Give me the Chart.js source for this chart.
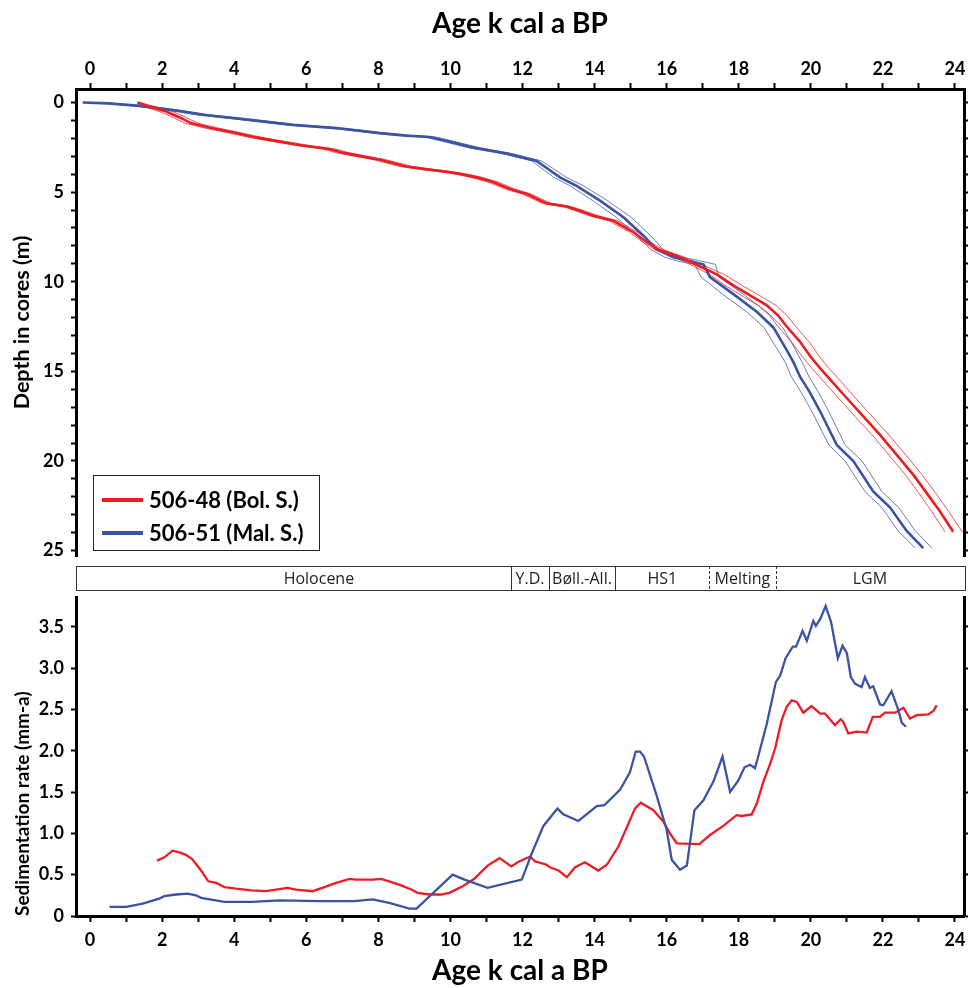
<!DOCTYPE html>
<html><head><meta charset="utf-8">
<script src="https://cdn.jsdelivr.net/npm/chart.js@4.4.0/dist/chart.umd.min.js"></script>
<style>
html,body{margin:0;padding:0;background:#fff;}
#wrap{position:relative;width:969px;height:988px;background:#fff;}
#c1{position:absolute;left:0;top:0;}
#c2{position:absolute;left:0;top:560px;}
</style></head>
<body><div id="wrap"><canvas id="c2" width="969" height="428"></canvas><canvas id="c1" width="969" height="563"></canvas></div>
<script>
// ---------- DATA ----------
// Age-depth model, core 506-48 (Bol. S.)
const redDepth = [0.0,0.2,0.51,0.85,1.15,1.4,1.71,1.95,2.15,2.4, 2.6,2.8,2.98,3.2,3.57,3.72,3.87,4.0,4.18,4.45, 4.83,5.11,5.63,5.80,6.05,6.32,6.60,7.24,7.80,8.25, 8.63,9.15,9.6,10.2,10.75,11.3,11.9,12.5,13.35,14.2, 14.83,15.6,16.5,17.5,18.54,19.7,20.76,21.75,22.8,23.95];
const redAge = [1.32,1.6,2.11,2.5,2.80,3.3,4.05,4.6,5.16,5.9, 6.64,7.0,7.47,8.05,8.77,9.3,9.90,10.3,10.73,11.2, 11.65,12.12,12.67,13.23,13.6,13.97,14.52,15.08,15.45,15.82, 16.37,16.93,17.4,17.85,18.3,18.77,19.1,19.33,19.70,20.0, 20.26,20.6,21.0,21.45,21.92,22.4,22.84,23.2,23.58,23.95];
const redAgeYoung = [1.3,1.45,1.93,2.32,2.62,3.12,3.87,4.42,4.98,5.72, 6.46,6.83,7.3,7.88,8.6,9.13,9.73,10.14,10.58,11.06, 11.52,12.0,12.55,13.11,13.48,13.85,14.4,14.97,15.34,15.71, 16.24,16.76,17.2,17.62,18.06,18.52,18.86,19.09,19.46,19.77, 20.03,20.37,20.77,21.22,21.7,22.18,22.62,22.98,23.35,23.72];
const redAgeOld = [1.34,1.76,2.29,2.68,2.98,3.48,4.23,4.78,5.34,6.08, 6.82,7.17,7.64,8.22,8.94,9.47,10.07,10.46,10.88,11.34, 11.78,12.24,12.79,13.35,13.72,14.09,14.64,15.19,15.56,15.93, 16.5,17.1,17.6,18.08,18.56,19.02,19.35,19.58,19.95,20.25, 20.5,20.85,21.24,21.7,22.16,22.65,23.08,23.45,23.82,24.2];
// Age-depth model, core 506-51 (Mal. S.)
const blueDepth = [0.0,0.05,0.19,0.45,0.69,0.93,1.25,1.43,1.71,1.85, 1.93,2.15,2.52,2.85,3.26,3.7,4.18,4.65,5.48,6.40, 7.42,8.2,8.63,8.85,9.03,9.74,10.69,11.68,12.55,13.7, 14.46,15.3,16.2,17.24,19.1,20.0,21.7,22.6,23.9,24.86];
const blueAge = [-0.2,0.5,1.37,2.39,3.13,4.24,5.62,6.83,8.03,8.77, 9.43,9.90,10.64,11.56,12.39,12.7,13.04,13.50,14.15,14.80, 15.35,15.72,16.19,16.6,17.02,17.20,17.85,18.50,18.96,19.3, 19.51,19.70,19.98,20.26,20.72,21.18,21.73,22.2,22.66,23.12];
const blueAgeYoung = [-0.2,0.35,1.2,2.21,2.95,4.06,5.44,6.65,7.85,8.6, 9.26,9.74,10.48,11.41,12.26,12.55,12.87,13.32,13.95,14.6, 15.16,15.55,15.95,16.3,16.78,16.95,17.55,18.22,18.7,19.05, 19.28,19.46,19.74,20.03,20.5,20.95,21.5,21.97,22.42,22.9];
const blueAgeOld = [-0.2,0.65,1.54,2.57,3.31,4.42,5.8,7.01,8.21,8.95, 9.6,10.06,10.8,11.71,12.52,12.86,13.22,13.69,14.36,15.01, 15.55,15.9,16.42,16.95,17.35,17.45,18.12,18.78,19.22,19.55, 19.75,19.95,20.22,20.5,20.95,21.42,21.97,22.44,22.9,23.36];
// Sedimentation rate (mm/a)
const redRateAge = [1.86,2.06,2.29,2.48,2.66,2.83,3.08,3.28,3.50,3.73,4.05,4.47,4.88,5.16,5.48,5.72,6.18,6.50,6.83,7.20,7.38,7.84,8.07,8.30,8.63,8.91,9.09,9.42,9.74,9.97,10.34,10.66,11.03,11.36,11.69,11.90,12.21,12.35,12.67,12.76,13.0,13.23,13.46,13.73,14.10,14.34,14.66,14.94,15.12,15.28,15.63,15.91,16.09,16.28,16.91,17.20,17.57,17.94,18.08,18.36,18.50,18.68,18.87,19.01,19.19,19.33,19.47,19.61,19.79,20.02,20.26,20.39,20.67,20.83,20.90,21.04,21.27,21.55,21.72,21.92,22.06,22.34,22.57,22.75,22.94,23.26,23.40,23.49];
const redRate = [0.67,0.71,0.79,0.77,0.74,0.69,0.55,0.42,0.40,0.35,0.33,0.31,0.30,0.32,0.34,0.32,0.30,0.35,0.40,0.45,0.44,0.44,0.45,0.42,0.37,0.32,0.28,0.26,0.26,0.28,0.36,0.45,0.61,0.70,0.60,0.66,0.72,0.66,0.62,0.59,0.55,0.47,0.59,0.65,0.55,0.62,0.84,1.12,1.30,1.37,1.28,1.14,1.00,0.88,0.87,0.98,1.09,1.22,1.21,1.23,1.36,1.62,1.84,2.03,2.37,2.53,2.61,2.59,2.46,2.54,2.45,2.45,2.31,2.38,2.35,2.21,2.23,2.22,2.41,2.41,2.46,2.46,2.52,2.39,2.43,2.44,2.48,2.55];
const blueRateAge = [0.54,1.0,1.46,1.92,2.06,2.39,2.71,2.94,3.08,3.73,4.51,5.25,6.36,7.33,7.84,8.30,8.86,9.06,10.06,10.39,11.03,11.98,12.25,12.58,12.97,13.13,13.55,14.06,14.27,14.71,14.98,15.14,15.26,15.37,15.72,16.0,16.14,16.37,16.56,16.77,17.02,17.30,17.55,17.76,17.99,18.16,18.31,18.45,18.54,18.78,19.03,19.15,19.30,19.50,19.59,19.77,19.89,20.07,20.14,20.27,20.41,20.56,20.75,20.88,21.0,21.11,21.23,21.41,21.50,21.64,21.73,21.92,22.01,22.24,22.43,22.52,22.64];
const blueRate = [0.11,0.11,0.15,0.21,0.24,0.26,0.27,0.25,0.22,0.17,0.17,0.19,0.18,0.18,0.20,0.16,0.09,0.09,0.50,0.44,0.34,0.44,0.75,1.09,1.30,1.23,1.15,1.33,1.34,1.53,1.74,1.99,1.99,1.93,1.46,1.04,0.68,0.56,0.61,1.28,1.40,1.63,1.93,1.50,1.64,1.80,1.83,1.79,1.93,2.33,2.83,2.91,3.12,3.26,3.26,3.45,3.33,3.57,3.51,3.60,3.75,3.56,3.12,3.27,3.18,2.89,2.81,2.77,2.89,2.76,2.78,2.56,2.55,2.72,2.49,2.34,2.29];
// Axis ticks
const ageTicks = [0,1,2,3,4,5,6,7,8,9,10,11,12,13,14,15,16,17,18,19,20,21,22,23,24];
const ageTickLabels = ['0','2','4','6','8','10','12','14','16','18','20','22','24'];
const depthTicks = [0,1,2,3,4,5,6,7,8,9,10,11,12,13,14,15,16,17,18,19,20,21,22,23,24,25];
const depthTickLabels = ['0','5','10','15','20','25'];
const rateTicks = [0,0.5,1.0,1.5,2.0,2.5,3.0,3.5];
const rateTickLabels = ['0','0.5','1.0','1.5','2.0','2.5','3.0','3.5'];
// Climate periods (k cal a BP)
const periodNames = ['Holocene','Y.D.','Bøll.-All.','HS1','Melting','LGM'];
const periodBounds = [11.68,12.74,14.57,17.18,19.03];
const periodBoundDashed = [false,false,false,true,true];
const periodLabelAt = [6.35,12.21,13.65,15.88,18.1,21.64];
const seriesNames = ['506-48 (Bol. S.)','506-51 (Mal. S.)'];

// ---------- STYLE ----------
const FONT = 'Lato, "Open Sans", sans-serif';
const RED = '#ed1c24', BLUE = '#3a53a4';
const RED_THIN = 'rgba(237,28,36,0.75)', BLUE_THIN = 'rgba(58,83,164,0.75)';
const X_MIN = -0.39, X_MAX = 24.25;

function pts(xs, ys){ return xs.map((x,i)=>({x:x, y:ys[i]})); }
function fixW(w){ return function(s){ s.width=w; s.paddingTop=0; s.paddingBottom=0; s.paddingLeft=0; s.paddingRight=0; }; }
function fixH(h){ return function(s){ s.height=h; s.paddingTop=0; s.paddingBottom=0; s.paddingLeft=0; s.paddingRight=0; }; }
function setTicks(vals){ return function(s){ s.ticks = vals.map(v => ({value:v})); }; }
function labelFrom(vals, labels){
  return function(v){
    for (let i = 0; i < labels.length; i++) {
      if (Math.abs(parseFloat(labels[i]) - v) < 1e-9) return labels[i];
    }
    return '';
  };
}
const tickFont = {family:FONT, size:18, weight:'bold'};
const titleFont = {family:FONT, size:28, weight:'bold'};

const legendPlugin = {
  id:'boxLegend',
  afterDraw(chart){
    const ctx = chart.ctx, a = chart.chartArea;
    const bx = a.left + 17, by = a.bottom - 81, bw = 226, bh = 75;
    ctx.save();
    ctx.fillStyle = '#fff'; ctx.fillRect(bx, by, bw, bh);
    ctx.strokeStyle = '#222'; ctx.lineWidth = 1;
    ctx.strokeRect(bx+0.5, by+0.5, bw, bh);
    const mains = chart.data.datasets.filter(d => d.isMain);
    mains.forEach((d,i) => {
      const y = by + 25 + i*33;
      ctx.strokeStyle = d.borderColor; ctx.lineWidth = 4;
      ctx.beginPath(); ctx.moveTo(bx+9, y); ctx.lineTo(bx+50, y); ctx.stroke();
      ctx.fillStyle = '#000'; ctx.font = 'bold 22px ' + FONT;
      ctx.textAlign = 'left'; ctx.textBaseline = 'middle';
      ctx.fillText(d.label, bx+56, y+1);
    });
    ctx.restore();
  }
};

const bandPlugin = {
  id:'periodBand',
  afterDraw(chart){
    const ctx = chart.ctx, a = chart.chartArea, x = chart.scales.x;
    const top = 6, h = 24;
    ctx.save();
    ctx.strokeStyle = '#333'; ctx.lineWidth = 1;
    ctx.strokeRect(Math.round(a.left)+0.5, top+0.5, Math.round(a.right-a.left)+1, h);
    periodBounds.forEach((b,i) => {
      const px = Math.round(x.getPixelForValue(b)) + 0.5;
      ctx.setLineDash(periodBoundDashed[i] ? [3,2] : []);
      ctx.beginPath(); ctx.moveTo(px, top); ctx.lineTo(px, top+h); ctx.stroke();
    });
    ctx.setLineDash([]);
    ctx.fillStyle = '#222'; ctx.font = '16px "Open Sans", ' + FONT;
    ctx.textAlign = 'center'; ctx.textBaseline = 'middle';
    periodNames.forEach((n,i) => ctx.fillText(n, x.getPixelForValue(periodLabelAt[i]), top + h/2 + 1));
    ctx.restore();
  }
};

function thin(label, data, color){ return {label:label, data:data, borderColor:color, borderWidth:1, pointRadius:0, fill:false, tension:0}; }
function main(label, data, color, w){ return {label:label, data:data, borderColor:color, borderWidth:w, pointRadius:0, fill:false, tension:0, isMain:true}; }

// ---------- TOP: age-depth ----------
new Chart(document.getElementById('c1'), {
  type:'line',
  data:{ datasets:[
    main(seriesNames[0], pts(redAge, redDepth), RED, 2.6),
    main(seriesNames[1], pts(blueAge, blueDepth), BLUE, 2.6),
    thin('r-young', pts(redAgeYoung, redDepth), RED_THIN),
    thin('r-old', pts(redAgeOld, redDepth), RED_THIN),
    thin('b-young', pts(blueAgeYoung, blueDepth), BLUE_THIN),
    thin('b-old', pts(blueAgeOld, blueDepth), BLUE_THIN)
  ]},
  options:{
    responsive:false, animation:false, devicePixelRatio:1,
    layout:{padding:{top:0,left:0,right:0,bottom:7}},
    plugins:{legend:{display:false}, tooltip:{enabled:false}},
    scales:{
      x:{type:'linear', position:'top', min:X_MIN, max:X_MAX, bounds:'data',
        afterBuildTicks:setTicks(ageTicks),
        ticks:{autoSkip:false, maxRotation:0, padding:3, color:'#000', font:tickFont, callback:labelFrom(ageTicks, ageTickLabels)},
        grid:{drawOnChartArea:false, tickLength:6, tickWidth:2, tickColor:'#000'},
        border:{display:true, color:'#000', width:3},
        title:{display:true, text:'Age k cal a BP', color:'#000', font:titleFont, padding:{top:7,bottom:0}},
        afterFit:fixH(89)},
      y:{type:'linear', position:'left', reverse:true, min:-0.75, max:25.3, bounds:'data',
        afterBuildTicks:setTicks(depthTicks),
        ticks:{autoSkip:false, padding:7, color:'#000', font:tickFont, callback:labelFrom(depthTicks, depthTickLabels)},
        grid:{drawOnChartArea:false, tickLength:5, tickWidth:2, tickColor:'#000'},
        border:{display:true, color:'#000', width:3},
        title:{display:true, text:'Depth in cores (m)', color:'#000', font:{family:FONT, size:21.5, weight:'bold'}, padding:{top:9,bottom:0}},
        afterFit:fixW(76)},
      y2:{type:'linear', position:'right', reverse:true, min:-0.75, max:25.3, bounds:'data',
        afterBuildTicks:setTicks(depthTicks),
        ticks:{autoSkip:false, display:false},
        grid:{drawOnChartArea:false, tickLength:4, tickWidth:2, tickColor:'#000'},
        border:{display:true, color:'#000', width:3},
        afterFit:fixW(5)}
    }
  },
  plugins:[legendPlugin]
});

// ---------- BOTTOM: sedimentation rate ----------
new Chart(document.getElementById('c2'), {
  type:'line',
  data:{ datasets:[
    main(seriesNames[1], pts(blueRateAge, blueRate), BLUE, 2.3),
    main(seriesNames[0], pts(redRateAge, redRate), RED, 2.3)
  ]},
  options:{
    responsive:false, animation:false, devicePixelRatio:1,
    layout:{padding:{top:37,left:0,right:0,bottom:0}},
    plugins:{legend:{display:false}, tooltip:{enabled:false}},
    scales:{
      x:{type:'linear', position:'bottom', min:X_MIN, max:X_MAX, bounds:'data',
        afterBuildTicks:setTicks(ageTicks),
        ticks:{autoSkip:false, maxRotation:0, padding:7, color:'#000', font:tickFont, callback:labelFrom(ageTicks, ageTickLabels)},
        grid:{drawOnChartArea:false, tickLength:6, tickWidth:2, tickColor:'#000'},
        border:{display:true, color:'#000', width:3},
        title:{display:true, text:'Age k cal a BP', color:'#000', font:titleFont, padding:{top:0,bottom:0}},
        afterFit:fixH(72)},
      y:{type:'linear', position:'left', min:0, max:3.86, bounds:'data',
        afterBuildTicks:setTicks(rateTicks),
        ticks:{autoSkip:false, padding:7, color:'#000', font:tickFont, callback:labelFrom(rateTicks, rateTickLabels)},
        grid:{drawOnChartArea:false, tickLength:5, tickWidth:2, tickColor:'#000'},
        border:{display:true, color:'#000', width:3},
        title:{display:true, text:'Sedimentation rate (mm-a)', color:'#000', align:'start', font:{family:FONT, size:19, weight:'bold'}, padding:{top:11,bottom:0}},
        afterFit:fixW(76)},
      y2:{type:'linear', position:'right', min:0, max:3.86, bounds:'data',
        afterBuildTicks:setTicks(rateTicks),
        ticks:{autoSkip:false, display:false},
        grid:{drawOnChartArea:false, tickLength:4, tickWidth:2, tickColor:'#000'},
        border:{display:true, color:'#000', width:3},
        afterFit:fixW(5)}
    }
  },
  plugins:[bandPlugin]
});
</script>
</body></html>
